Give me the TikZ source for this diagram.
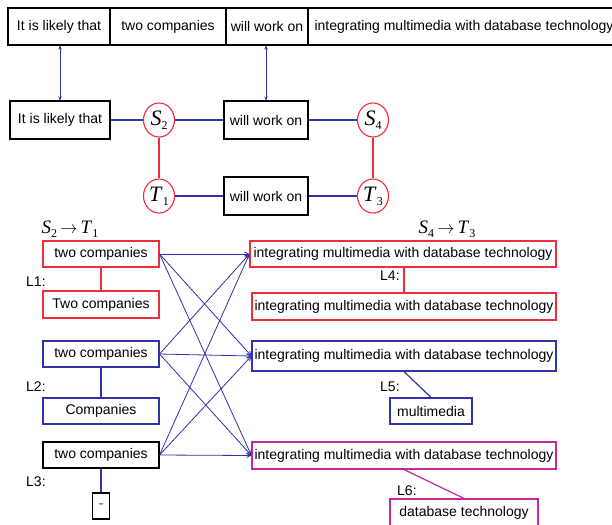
\documentclass[tikz,border=0pt]{standalone}
\usepackage{fontspec}
\setmainfont{Liberation Sans}
\newfontfamily\tms{Liberation Serif}
\usetikzlibrary{shapes.geometric,arrows.meta}
\definecolor{lnblue}{RGB}{50,50,170}
\definecolor{lnred}{RGB}{240,45,60}
\definecolor{lnmag}{RGB}{200,40,150}
% italic symbol with an upright subscript
\newcommand\symsub[2]{\textit{#1}\raisebox{-4pt}{\fontsize{12}{12}\selectfont #2}}
\begin{document}
\begin{tikzpicture}[x=1pt,y=-1pt,
  every node/.style={font=\fontsize{14}{16}\selectfont},
  box/.style={draw, line width=1.1pt, inner sep=0pt, minimum height=26pt},
  redbox/.style={box, color=lnred, text=black},
  bluebox/.style={box, color=lnblue, text=black},
  magbox/.style={box, color=lnmag, text=black},
  state/.style={ellipse, draw, color=lnred, text=black, line width=1.1pt, minimum width=31pt,
    minimum height=34pt, inner sep=0pt, font=\tms\fontsize{22}{24}\selectfont},
  maplabel/.style={font=\tms\fontsize{19}{24}\selectfont, inner sep=0pt},
  tag/.style={anchor=west, inner sep=0pt},
  link/.style={color=lnblue, line width=1.2pt},
  redlink/.style={color=lnred, line width=1.2pt},
  maglink/.style={color=lnmag, line width=1.2pt},
  dbl/.style={color=lnblue, line width=1pt, {Stealth[length=4pt,width=3.5pt]}-{Stealth[length=4pt,width=3.5pt]}},
  cross/.style={color=lnblue, line width=0.8pt, -{Straight Barb[length=4pt,width=4pt]}}
]
\useasboundingbox[fill=white] (0,0) rectangle (612,524);

% sentence row
\node[box, minimum width=102pt, minimum height=37pt] (top1) at (59,26.5) {It is likely that};
\node[box, minimum width=116pt, minimum height=37pt] (top2) at (168,26.5) {two companies};
\node[box, minimum width=82pt, minimum height=37pt] (top3) at (267,26.5) {will work on};
\node[box, minimum width=312pt, minimum height=37pt] (top4) at (464,26.5) {integrating multimedia with database technology};

% state graph
\node[box, minimum width=100pt, minimum height=38pt] (mid1) at (60,120) {It is likely that};
\node[state] (s2) at (159,120) {\symsub{S}{2}};
\node[box, minimum width=84pt, minimum height=38pt] (wwo1) at (266,120) {will work on};
\node[state] (s4) at (373,120) {\symsub{S}{4}};
\node[state] (t1) at (159,196) {\symsub{T}{1}};
\node[box, minimum width=84pt, minimum height=38pt] (wwo2) at (266,196) {will work on};
\node[state] (t3) at (373,196) {\symsub{T}{3}};

\draw[dbl] (mid1.north |- top1.south) -- (mid1.north);
\draw[dbl] (wwo1.north |- top3.south) -- (wwo1.north);
\draw[link] (mid1) -- (s2);
\draw[link] (s2) -- (wwo1);
\draw[link] (wwo1) -- (s4);
\draw[link] (t1) -- (wwo2);
\draw[link] (wwo2) -- (t3);
\draw[redlink] (s2) -- (t1);
\draw[redlink] (s4) -- (t3);

% mapping titles
\node[maplabel] (m1) at (70,229) {\symsub{S}{2}\,$\rightarrow$\,\symsub{T}{1}};
\node[maplabel] (m2) at (447,229) {\symsub{S}{4}\,$\rightarrow$\,\symsub{T}{3}};

% left column
\node[redbox, minimum width=116pt] (a1) at (101,254) {two companies};
\node[redbox, minimum width=116pt, minimum height=27pt] (a2) at (101,304.5) {Two companies};
\node[bluebox, minimum width=116pt] (b1) at (101,354) {two companies};
\node[bluebox, minimum width=116pt] (b2) at (101,411) {Companies};
\node[box, minimum width=116pt] (c1) at (101,455) {two companies};
\node[box, minimum width=17pt, minimum height=26pt, font=\fontsize{7}{7}\selectfont] (c2) at (101,506) {""};

\node[tag] (l1) at (26,282) {L1:};
\node[tag] (l2) at (26,387) {L2:};
\node[tag] (l3) at (26,482) {L3:};

\draw[redlink] (a1.south) -- (a2.north);
\draw[link] (b1.south) -- (b2.north);
\draw[link] (c1.south) -- (c2.north);

% right column
\node[redbox, minimum width=306pt] (r1) at (403,254) {integrating multimedia with database technology};
\node[redbox, minimum width=304pt, minimum height=27pt] (r2) at (404,306.5) {integrating multimedia with database technology};
\node[bluebox, minimum width=304pt, minimum height=30pt] (r3) at (404,356) {integrating multimedia with database technology};
\node[bluebox, minimum width=82pt] (r3b) at (431,411) {multimedia};
\node[magbox, minimum width=304pt, minimum height=27pt] (r4) at (404,455.5) {integrating multimedia with database technology};
\node[magbox, minimum width=148pt, minimum height=28pt] (r4b) at (464,513) {database technology};

\node[tag] (l4) at (380,276) {L4:};
\node[tag] (l5) at (380,387) {L5:};
\node[tag] (l6) at (397,491) {L6:};

\draw[redlink] (r2.north |- r1.south) -- (r2.north);
\draw[link] (r3.south) -- (r3b.north);
\draw[maglink] (r4.south) -- (r4b.north);

% all pairings between the two columns
\foreach \src in {a1,b1,c1}
  \foreach \dst in {r1,r3,r4}
    \draw[cross] (\src.east) -- (\dst.west);
\end{tikzpicture}
\end{document}
